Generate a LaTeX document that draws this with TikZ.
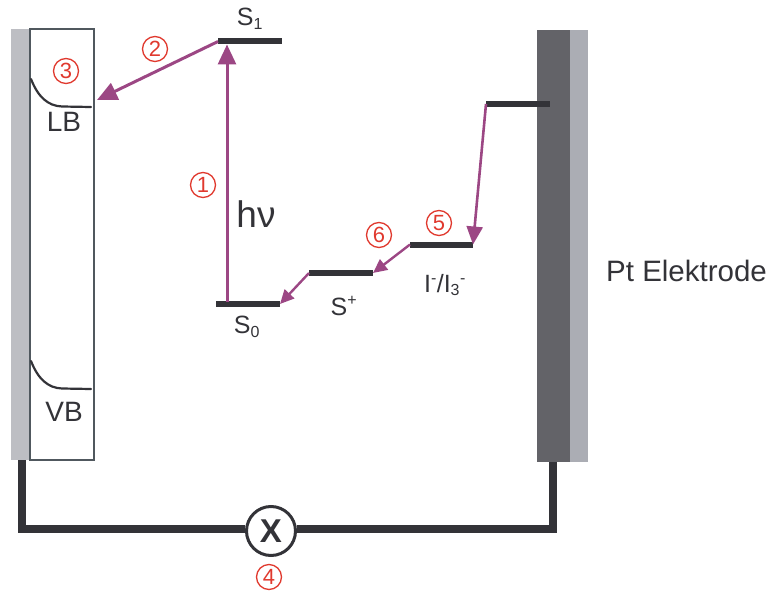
\documentclass[tikz,border=0pt]{standalone}
\usepackage{fontspec}
\setmainfont{Liberation Sans}
\usetikzlibrary{arrows.meta}
\definecolor{lvl}{HTML}{333338}
\definecolor{plum}{HTML}{9C4784}
\definecolor{redn}{HTML}{E0392E}
\definecolor{barl}{HTML}{BDBEC3}
\definecolor{bard}{HTML}{636368}
\definecolor{barm}{HTML}{ABADB4}
\definecolor{boxe}{HTML}{50585E}
\tikzset{
 level/.style={fill=lvl,minimum width=#1,minimum height=6pt,inner sep=0pt,outer sep=0pt},
 bigarrow/.style={draw=plum,line width=3pt,-{Triangle[length=20pt,width=18pt,fill=plum]},shorten >=0pt},
 smallarrow/.style={draw=plum,line width=2.4pt,-{Triangle[length=14pt,width=13pt,fill=plum]}},
 lab/.style={text=lvl,inner sep=0pt,font=\fontsize{28}{28}\selectfont},
 slab/.style={text=lvl,inner sep=0pt,font=\fontsize{25}{25}\selectfont},
 num/.style={circle,draw=redn,line width=1.3pt,text=redn,inner sep=0pt,minimum size=25pt,font=\fontsize{22}{22}\selectfont},
 wire/.style={draw=lvl,line width=8pt},
 band/.style={draw=lvl,line width=2.2pt,line cap=round},
}
\newcommand{\lowidx}[1]{\textsubscript{\fontsize{16}{16}\selectfont #1}}
\newcommand{\highidx}[1]{\textsuperscript{\fontsize{16}{16}\selectfont #1}}
\begin{document}
\begin{tikzpicture}[x=1pt,y=-1pt]
\useasboundingbox (0,0) rectangle (768,591);
% left electrode
\fill[barl] (11,29) rectangle (29,460);
\node[draw=boxe,line width=2pt,minimum width=64pt,minimum height=430pt,inner sep=0pt,outer sep=0pt] (box) at (62,244.5) {};
% right electrode
\fill[bard] (537,30) rectangle (570,462);
\fill[barm] (570,30) rectangle (588,462);
\coordinate (wl) at (21.5,460);
\coordinate (wr) at (553,462);
\coordinate (wbl) at (21.5,529);
\coordinate (wbr) at (553,529);
\node[draw=lvl,fill=white,circle,line width=3pt,minimum size=49pt,inner sep=0pt,font=\bfseries\fontsize{33}{33}\selectfont,text=lvl] (x) at (271,531) {X};
\draw[wire] (wl) -- (wbl) -- (x.west |- wbl);
\draw[wire] (x.east |- wbr) -- (wbr) -- (wr);
% levels
\node[level=64pt] (s1) at (250,41.5) {};
\node[level=64pt] (s0) at (248,304) {};
\node[level=64pt] (sp) at (341,273) {};
\node[level=63pt] (ii) at (441.5,244.5) {};
\node[level=64pt] (pt) at (518,104) {};
% bands
\draw[band] (31,79) .. controls (38,97) and (48,106) .. (62,106.5) -- (91,107);
\draw[band] (31,361) .. controls (38,379) and (48,388) .. (62,388.5) -- (91,389);
% arrows
\coordinate (lbt) at (97,100);
\coordinate (a1s) at (227,302);
\coordinate (a1e) at (227,44.5);
\draw[bigarrow] (s1.west) -- (lbt);
\draw[bigarrow] (a1s) -- (a1e);
\draw[bigarrow,line width=2.6pt,-{Triangle[length=18pt,width=16pt,fill=plum]}] (pt.west) -- (ii.east);
\draw[smallarrow] (ii.west) -- (sp.east);
\draw[smallarrow] (sp.west) -- (s0.east);
% labels
\node[slab] (ls1) at (250,19) {S\lowidx{1}};
\node[slab] (ls0) at (247,327) {S\lowidx{0}};
\node[slab] (lsp) at (344,306) {S\highidx{+}};
\node[slab] (lii) at (445,285) {I\highidx{-}/I\lowidx{3}\highidx{-}};
\node[lab] (lb) at (64,122) {LB};
\node[lab] (vb) at (64,412) {VB};
\node[lab,font=\fontsize{37}{37}\selectfont] (hv) at (256,214) {hν};
\node[lab,font=\fontsize{29.5}{29.5}\selectfont,anchor=west] (pe) at (606,271) {Pt Elektrode};
% numbers
\node[num] (n1) at (203,185) {1};
\node[num] (n2) at (155,49) {2};
\node[num] (n3) at (66,71) {3};
\node[num] (n4) at (269,577) {4};
\node[num] (n5) at (439,223) {5};
\node[num] (n6) at (379,235) {6};
\end{tikzpicture}
\end{document}
